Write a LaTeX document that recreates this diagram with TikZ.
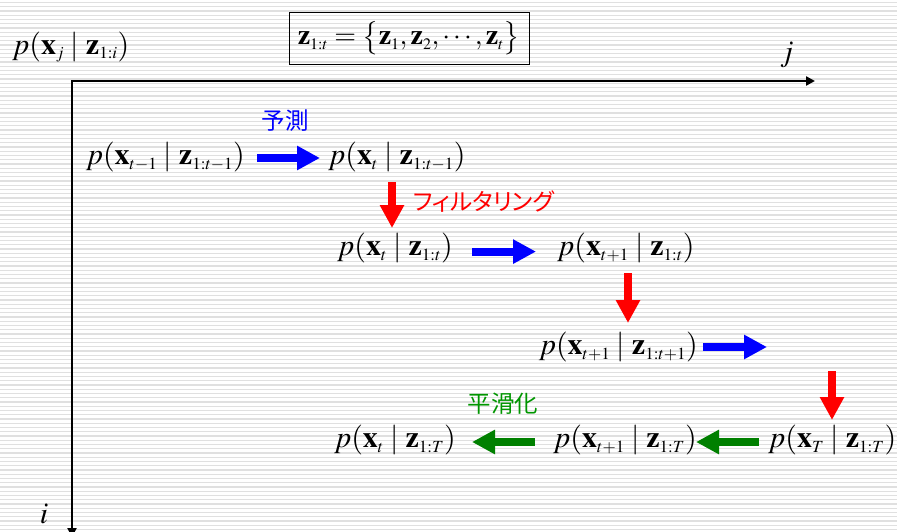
\documentclass[tikz,border=0pt]{standalone}
\usepackage{mathptmx}
\usepackage{fontspec}
\setmainfont{Liberation Serif}
\newfontfamily\jpfont[RawFeature=+palt]{Noto Sans CJK JP}
\DeclareMathSizes{30}{30}{17}{13}
\DeclareMathSizes{28}{28}{16}{12}
\usetikzlibrary{arrows.meta}
\definecolor{arrblue}{RGB}{0,0,255}
\definecolor{arrred}{RGB}{255,0,0}
\definecolor{arrgreen}{RGB}{0,128,0}
\definecolor{txtgreen}{RGB}{0,150,0}
\definecolor{stripegray}{RGB}{224,224,224}
\begin{document}
\begin{tikzpicture}[x=1pt,y=-1pt,
  eq/.style={inner sep=0pt, font=\fontsize{30}{34}\selectfont},
  jp/.style={inner sep=0pt, font=\jpfont\fontsize{23.5}{26}\selectfont},
  fat/.style={line width=8pt, -{Triangle[length=23pt,width=23pt]}},
  bluearr/.style={fat, draw=arrblue, fill=arrblue},
  redarr/.style={fat, draw=arrred, fill=arrred},
  greenarr/.style={fat, draw=arrgreen, fill=arrgreen},
  axis/.style={line width=2.7pt, line join=miter, {Triangle[length=9pt,width=9pt]}-{Triangle[length=9pt,width=9pt]}},
  stripe/.style={draw=stripegray, line width=1.3pt}]
\useasboundingbox (0,0) rectangle (897,532);
\fill[white] (0,0) rectangle (897,532);
\foreach \y in {2.5,6.75,...,532} \draw[stripe] (0,\y) -- (897,\y);
% axes
\coordinate (O) at (72,81);
\coordinate (jend) at (815,81);
\coordinate (iend) at (72,537);
\draw[axis] (iend) -- (O) -- (jend);
\node[eq] (jlab) at (787,55) {$j$};
\node[eq] (ilab) at (44,514) {$i$};
\node[eq, anchor=west] (pji) at (12,47) {$p(\mathbf{x}_j\mid\mathbf{z}_{1:i})$};
\node[draw, line width=0.8pt, minimum width=240pt, minimum height=52pt, inner sep=0pt] (zbox) at (409,38) {};
\node[inner sep=0pt, font=\fontsize{28}{32}\selectfont] (zset) at (zbox.center)
  {$\thickmuskip=4mu \mathbf{z}_{1:t}=\bigl\{\mathbf{z}_1,\mathbf{z}_2,\cdots,\mathbf{z}_t\bigr\}$};
% row 1
\node[eq, anchor=east] (A) at (245,157) {$p(\mathbf{x}_{t-1}\mid\mathbf{z}_{1:t-1})$};
\node[eq, anchor=west] (B) at (328,157) {$p(\mathbf{x}_{t}\mid\mathbf{z}_{1:t-1})$};
\node[jp, text=arrblue] (yosoku) at (285,121) {予測};
% row 2
\node[eq, anchor=east] (C) at (453,248) {$p(\mathbf{x}_{t}\mid\mathbf{z}_{1:t})$};
\node[eq, anchor=west] (D) at (557,248) {$p(\mathbf{x}_{t+1}\mid\mathbf{z}_{1:t})$};
\node[jp, text=arrred, anchor=west] (filt) at (413,202) {フィルタリング};
% row 3
\node[eq, anchor=east] (E) at (698,347) {$p(\mathbf{x}_{t+1}\mid\mathbf{z}_{1:t+1})$};
\coordinate (Eout) at (767,347);
\coordinate (Hin) at (832,371);
% row 4
\node[eq, anchor=east] (F) at (456,440) {$p(\mathbf{x}_{t}\mid\mathbf{z}_{1:T})$};
\node[eq, anchor=west] (G) at (553,440) {$p(\mathbf{x}_{t+1}\mid\mathbf{z}_{1:T})$};
\node[eq, anchor=west] (H) at (768,440) {$p(\mathbf{x}_{T}\mid\mathbf{z}_{1:T})$};
\node[jp, text=txtgreen] (smooth) at (503,404) {平滑化};
% arrows
\draw[bluearr] ([xshift=12pt,yshift=-1pt]A.east) -- ([xshift=-8pt,yshift=-1pt]B.west);
\draw[redarr] ([xshift=64pt,yshift=-25pt]B.west) -- ([xshift=-61pt,yshift=20pt]C.east);
\draw[bluearr] ([xshift=19pt,yshift=-3.6pt]C.east) -- ([xshift=-21pt,yshift=-3.6pt]D.west);
\draw[redarr] ([xshift=71pt,yshift=-25pt]D.west) -- ([xshift=-70pt,yshift=24pt]E.east);
\draw[bluearr] ([xshift=5pt]E.east) -- (Eout);
\draw[redarr] (Hin) -- ([xshift=64pt,yshift=20pt]H.west);
\draw[greenarr] ([xshift=-9pt,yshift=-2pt]H.west) -- ([xshift=143pt,yshift=-2pt]G.west);
\draw[greenarr] ([xshift=-18pt,yshift=-2pt]G.west) -- ([xshift=16pt,yshift=-2pt]F.east);
\end{tikzpicture}
\end{document}
